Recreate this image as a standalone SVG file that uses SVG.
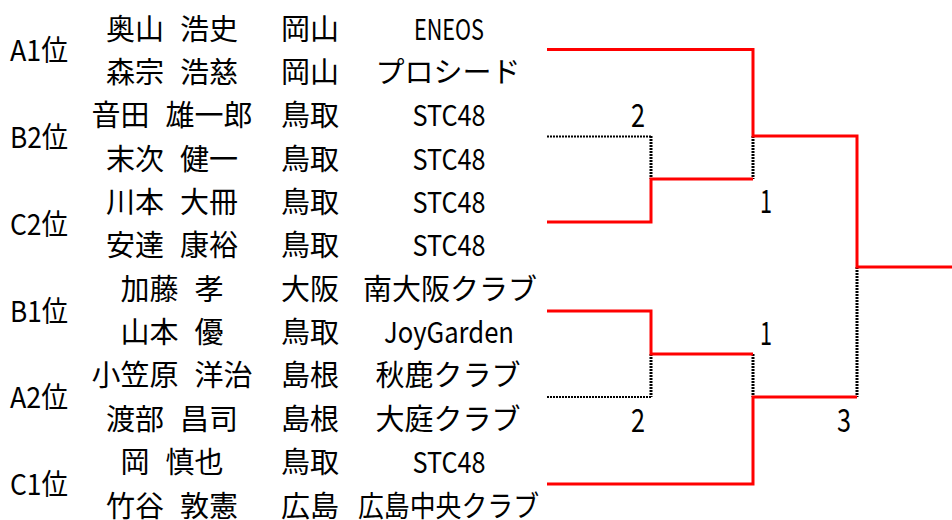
<svg xmlns="http://www.w3.org/2000/svg" width="952" height="520" viewBox="0 0 952 520">
<style>
text{font-family:"Noto Sans CJK JP","Noto Sans",sans-serif;font-size:29px;fill:#000;text-anchor:middle}
.sc{font-size:32px}
.win{fill:none;stroke:#ff0000;stroke-width:3}
.lose{fill:none;stroke:#000;stroke-width:2;stroke-dasharray:2 1}
.losev{fill:none;stroke:#000;stroke-width:3;stroke-dasharray:2 1}
</style>
<rect width="952" height="520" fill="#fff"/>
<g id="pair-A1">
<text x="39" y="61" textLength="58" lengthAdjust="spacingAndGlyphs">A1位</text>
<text x="172" y="39.5">奥山<tspan dx="16">浩史</tspan></text><text x="310" y="39.5">岡山</text><text x="449" y="39.5" textLength="70" lengthAdjust="spacingAndGlyphs">ENEOS</text>
<text x="172" y="82.9">森宗<tspan dx="16">浩慈</tspan></text><text x="310" y="82.9">岡山</text><text x="448" y="82.9">プロシード</text>
</g>
<g id="pair-B2">
<text x="39" y="148" textLength="58" lengthAdjust="spacingAndGlyphs">B2位</text>
<text x="172" y="126.2">音田<tspan dx="16">雄一郎</tspan></text><text x="310" y="126.2">鳥取</text><text x="449" y="126.2" textLength="73" lengthAdjust="spacingAndGlyphs">STC48</text>
<text x="172" y="169.6">末次<tspan dx="16">健一</tspan></text><text x="310" y="169.6">鳥取</text><text x="449" y="169.6" textLength="73" lengthAdjust="spacingAndGlyphs">STC48</text>
</g>
<g id="pair-C2">
<text x="39" y="235" textLength="58" lengthAdjust="spacingAndGlyphs">C2位</text>
<text x="172" y="212.9">川本<tspan dx="16">大冊</tspan></text><text x="310" y="212.9">鳥取</text><text x="449" y="212.9" textLength="73" lengthAdjust="spacingAndGlyphs">STC48</text>
<text x="172" y="256.3">安達<tspan dx="16">康裕</tspan></text><text x="310" y="256.3">鳥取</text><text x="449" y="256.3" textLength="73" lengthAdjust="spacingAndGlyphs">STC48</text>
</g>
<g id="pair-B1">
<text x="39" y="322" textLength="58" lengthAdjust="spacingAndGlyphs">B1位</text>
<text x="172" y="299.7">加藤<tspan dx="16">孝</tspan></text><text x="310" y="299.7">大阪</text><text x="450" y="299.7">南大阪クラブ</text>
<text x="172" y="343">山本<tspan dx="16">優</tspan></text><text x="310" y="343">鳥取</text><text x="449" y="343" textLength="130" lengthAdjust="spacingAndGlyphs">JoyGarden</text>
</g>
<g id="pair-A2">
<text x="39" y="408" textLength="58" lengthAdjust="spacingAndGlyphs">A2位</text>
<text x="172" y="386.4">小笠原<tspan dx="16">洋治</tspan></text><text x="310" y="386.4">島根</text><text x="448" y="386.4">秋鹿クラブ</text>
<text x="172" y="429.7">渡部<tspan dx="16">昌司</tspan></text><text x="310" y="429.7">島根</text><text x="448" y="429.7">大庭クラブ</text>
</g>
<g id="pair-C1">
<text x="39" y="495" textLength="58" lengthAdjust="spacingAndGlyphs">C1位</text>
<text x="172" y="473.1">岡<tspan dx="16">慎也</tspan></text><text x="310" y="473.1">鳥取</text><text x="449" y="473.1" textLength="73" lengthAdjust="spacingAndGlyphs">STC48</text>
<text x="172" y="516.5">竹谷<tspan dx="16">敦憲</tspan></text><text x="310" y="516.5">広島</text><text x="448.5" y="516.5" textLength="181" lengthAdjust="spacingAndGlyphs">広島中央クラブ</text>
</g>
<g id="connectors">
<path class="lose" d="M547,136.5H651"/>
<path class="losev" d="M651,136V179"/>
<path class="losev" d="M753,136V179"/>
<path class="lose" d="M547,397H651"/>
<path class="losev" d="M651,354V397"/>
<path class="losev" d="M753,354V397"/>
<path class="losev" d="M857,267V397"/>
<path class="win" d="M547,49.5H753V136H857V267H952"/>
<path class="win" d="M547,222H651V179H753"/>
<path class="win" d="M547,311H651V354H753"/>
<path class="win" d="M547,484H753V397H857"/>
</g>
<g id="scores">
<text class="sc" x="638" y="127" textLength="14" lengthAdjust="spacingAndGlyphs">2</text>
<text class="sc" x="766" y="213" textLength="12" lengthAdjust="spacingAndGlyphs">1</text>
<text class="sc" x="766" y="345" textLength="12" lengthAdjust="spacingAndGlyphs">1</text>
<text class="sc" x="638" y="432" textLength="14" lengthAdjust="spacingAndGlyphs">2</text>
<text class="sc" x="844" y="432" textLength="14" lengthAdjust="spacingAndGlyphs">3</text>
</g>
</svg>
